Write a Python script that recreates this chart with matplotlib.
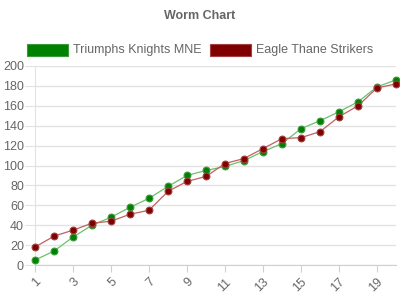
import matplotlib
matplotlib.use("Agg")
import matplotlib.pyplot as plt
from matplotlib.patches import Rectangle

plt.rcParams['font.family'] = ['Liberation Sans', 'DejaVu Sans']

title = "Worm Chart"
rounds = list(range(1, 21))
names = ["Triumphs Knights MNE", "Eagle Thane Strikers"]
knights = [5, 14, 28, 40, 48, 58, 67, 79, 90, 95,
           99, 105, 114, 122, 137, 145, 154, 164, 179, 186]
strikers = [18, 29, 35, 42, 44, 51, 55, 74, 84, 89,
            102, 107, 117, 127, 128, 134, 149, 160, 178, 182]
fills = ["#008000", "#800000"]
edges = ["#3a9a3a", "#a04040"]
lines = ["#6cc06c", "#c06060"]

fig = plt.figure(figsize=(4, 3), dpi=100)
ax = fig.add_axes([35 / 400, 1 - 265 / 300, 361 / 400, 199 / 300])

for vals, fc, ec, lc in zip([knights, strikers], fills, edges, lines):
    ax.plot(rounds, vals, color=lc, lw=0.9, zorder=2, clip_on=False)
    ax.scatter(rounds, vals, s=24, color=fc, edgecolors=ec, linewidths=0.8,
               zorder=3, clip_on=False)

ax.set_xlim(1, 20)
ax.set_ylim(0, 200)
ax.set_yticks(range(0, 201, 20))
ax.set_xticks(rounds[::2])
ax.set_xticklabels([str(r) for r in rounds[::2]], rotation=45, ha='right',
                   rotation_mode='anchor')
ax.grid(axis='y', color='#e3e3e3', lw=1)
ax.set_axisbelow(True)
for s in ['top', 'right']:
    ax.spines[s].set_visible(False)
ax.spines['left'].set_color('#e3e3e3')
ax.spines['bottom'].set_color('#d0d0d0')
ax.tick_params(axis='y', length=7, color='#e3e3e3', labelsize=9, labelcolor='#666666', pad=1)
ax.tick_params(axis='x', length=5, color='#d0d0d0', labelsize=9, labelcolor='#666666', pad=3)

fig.text(0.5, 1 - 16 / 300, title, ha='center', va='center', fontsize=9,
         fontweight='bold', color='#666666')

# legend
for x0, name, fc, ec in zip([27, 210], names, fills, edges):
    fig.patches.append(Rectangle((x0 / 400, 1 - 56 / 300), 41 / 400, 12 / 300,
                                 transform=fig.transFigure, facecolor=fc,
                                 edgecolor=ec, lw=0.8))
    fig.text((x0 + 46) / 400, 1 - 50 / 300, name, ha='left', va='center',
             fontsize=9, color='#666666')

fig.savefig("out.png", dpi=100)
